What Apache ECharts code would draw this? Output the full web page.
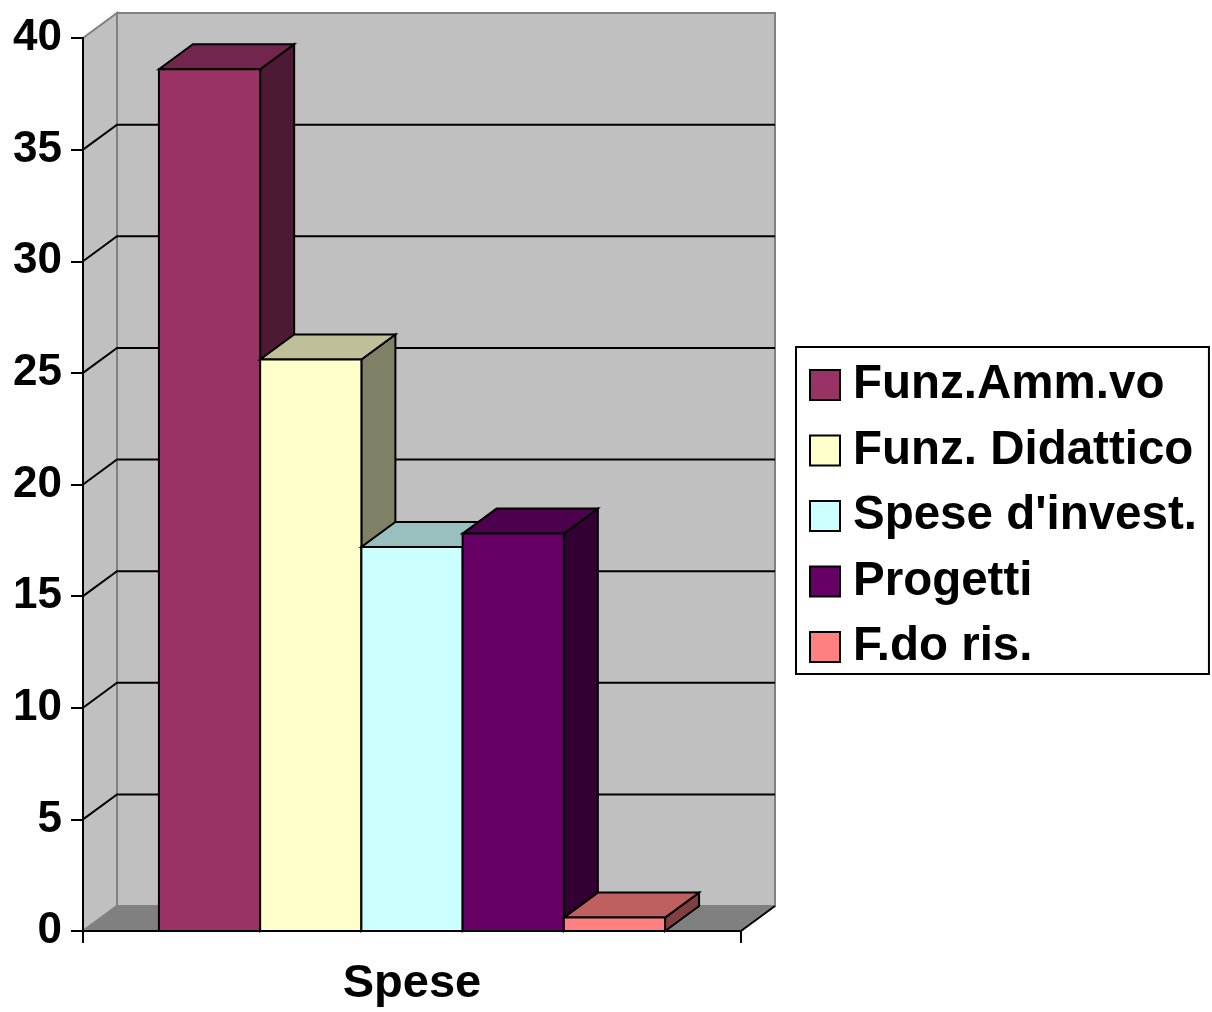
<!DOCTYPE html>
<html>
<head>
<meta charset="utf-8">
<script src="https://cdn.jsdelivr.net/npm/echarts@6/dist/echarts.min.js"></script>
<style>
  html, body { margin: 0; padding: 0; background: #fff; }
  #chart { width: 1212px; height: 1012px; }
</style>
</head>
<body>
<div id="chart"></div>
<script>
// dati
var categories = ['Spese'];
var seriesNames = ['Funz.Amm.vo', 'Funz. Didattico', "Spese d'invest.", 'Progetti', 'F.do ris.'];
var seriesValues = [38.6, 25.6, 17.2, 17.8, 0.6];
var seriesColors = ['#993366', '#ffffcc', '#ccffff', '#660066', '#ff8080'];
var yTicks = [0, 5, 10, 15, 20, 25, 30, 35, 40];

// profondità 3D (pixel)
var DX = 34, DY = -25;
var GAP = 1.5; // gap width 150%

function shade(hex, k) {
  var n = parseInt(hex.slice(1), 16);
  var r = Math.round(((n >> 16) & 255) * k);
  var g = Math.round(((n >> 8) & 255) * k);
  var b = Math.round((n & 255) * k);
  return 'rgb(' + r + ',' + g + ',' + b + ')';
}

var chart = echarts.init(document.getElementById('chart'));

// pareti, pavimento e griglia
function renderFrame(params, api) {
  var c0 = api.coord([0, yTicks[0]]);
  var band = api.size([1, 0])[0];
  var x0 = c0[0] - band / 2, x1 = c0[0] + band / 2;
  var yb = c0[1];
  var yt = api.coord([0, yTicks[yTicks.length - 1]])[1];
  var children = [];
  // parete sinistra
  children.push({
    type: 'polygon',
    shape: { points: [[x0, yb], [x0, yt], [x0 + DX, yt + DY], [x0 + DX, yb + DY]] },
    style: { fill: '#c0c0c0', stroke: '#808080', lineWidth: 2 }
  });
  // parete di fondo
  children.push({
    type: 'rect',
    shape: { x: x0 + DX, y: yt + DY, width: band, height: yb - yt },
    style: { fill: '#c0c0c0', stroke: '#808080', lineWidth: 2 }
  });
  // pavimento
  children.push({
    type: 'polygon',
    shape: { points: [[x0, yb], [x1, yb], [x1 + DX, yb + DY], [x0 + DX, yb + DY]] },
    style: { fill: '#808080', stroke: null }
  });
  children.push({
    type: 'line',
    shape: { x1: x1, y1: yb, x2: x1 + DX, y2: yb + DY },
    style: { stroke: '#000', lineWidth: 2 }
  });
  children.push({
    type: 'line',
    shape: { x1: x0, y1: yb, x2: x0 + DX, y2: yb + DY },
    style: { stroke: '#808080', lineWidth: 2 }
  });
  // linee della griglia
  for (var i = 1; i < yTicks.length - 1; i++) {
    var y = api.coord([0, yTicks[i]])[1];
    children.push({
      type: 'polyline',
      shape: { points: [[x0, y], [x0 + DX, y + DY], [x1 + DX, y + DY]] },
      style: { stroke: '#000', lineWidth: 2, fill: null }
    });
  }
  return { type: 'group', silent: true, children: children };
}

function makeBarRender(idx) {
  return function (params, api) {
    var val = api.value(1);
    var c0 = api.coord([api.value(0), 0]);
    var band = api.size([1, 0])[0];
    var w = band / (seriesValues.length + GAP);
    var l = c0[0] - band / 2 + w * (GAP / 2 + idx);
    var r = l + w;
    var yb = c0[1];
    var yt = api.coord([api.value(0), val])[1];
    var col = seriesColors[idx];
    var st = { stroke: '#000', lineWidth: 2, lineJoin: 'miter' };
    return {
      type: 'group',
      silent: true,
      children: [
        {
          type: 'polygon',
          shape: { points: [[r, yt], [r + DX, yt + DY], [r + DX, yb + DY], [r, yb]] },
          style: Object.assign({ fill: shade(col, 0.5) }, st)
        },
        {
          type: 'polygon',
          shape: { points: [[l, yt], [r, yt], [r + DX, yt + DY], [l + DX, yt + DY]] },
          style: Object.assign({ fill: shade(col, 0.75) }, st)
        },
        {
          type: 'rect',
          shape: { x: l, y: yt, width: w, height: yb - yt },
          style: Object.assign({ fill: col }, st)
        }
      ]
    };
  };
}

var series = [{
  type: 'custom',
  name: '_frame',
  renderItem: renderFrame,
  data: [[0, 0]],
  silent: true,
  z: 1
}];
seriesNames.forEach(function (name, i) {
  series.push({
    type: 'custom',
    name: name,
    renderItem: makeBarRender(i),
    itemStyle: { color: seriesColors[i] },
    data: [[0, seriesValues[i]]],
    z: 2
  });
});

var fontFamily = 'Liberation Sans, Arial, sans-serif';

chart.setOption({
  animation: false,
  grid: { left: 83, top: 38, width: 658, height: 893, containLabel: false },
  xAxis: {
    type: 'category',
    data: categories,
    boundaryGap: true,
    axisLine: { show: true, lineStyle: { color: '#000', width: 2 } },
    axisTick: { show: true, length: 12, lineStyle: { color: '#000', width: 2 } },
    axisLabel: {
      margin: 30,
      fontSize: 47,
      fontWeight: 'bold',
      color: '#000',
      fontFamily: fontFamily
    },
    splitLine: { show: false },
    z: 5
  },
  yAxis: {
    type: 'value',
    min: 0,
    max: 40,
    interval: 5,
    axisLine: { show: true, lineStyle: { color: '#000', width: 2 } },
    axisTick: { show: true, length: 12, lineStyle: { color: '#000', width: 2 } },
    axisLabel: {
      margin: 21,
      fontSize: 44,
      fontWeight: 'bold',
      color: '#000',
      fontFamily: fontFamily
    },
    splitLine: { show: false },
    z: 5
  },
  legend: {
    orient: 'vertical',
    left: 796,
    top: 347,
    data: seriesNames,
    icon: 'rect',
    itemWidth: 30,
    itemHeight: 30,
    itemGap: 15.5,
    padding: [13, 12, 2, 13],
    borderColor: '#000',
    borderWidth: 2,
    backgroundColor: '#fff',
    selectedMode: false,
    itemStyle: { borderColor: '#000', borderWidth: 2 },
    textStyle: {
      fontSize: 47.5,
      fontWeight: 'bold',
      color: '#000',
      fontFamily: fontFamily,
      lineHeight: 50,
      padding: [0, 0, 0, 8]
    }
  },
  series: series
});
</script>
</body>
</html>
